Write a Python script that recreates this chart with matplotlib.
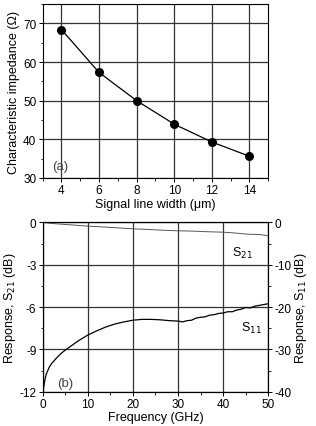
import matplotlib
matplotlib.use('Agg')
import matplotlib.pyplot as plt
from matplotlib.ticker import MultipleLocator

plt.rcParams['font.family'] = ['Liberation Sans', 'DejaVu Sans']
plt.rcParams['font.size'] = 9
plt.rcParams['xtick.labelsize'] = 8.5
plt.rcParams['ytick.labelsize'] = 8.5
plt.rcParams['axes.unicode_minus'] = False

# Panel (a): characteristic impedance vs signal line width
width_um = [4, 6, 8, 10, 12, 14]
impedance = [68.4, 57.3, 50.0, 43.9, 39.3, 35.6]

# Panel (b): S-parameters vs frequency
s21_freq = [0, 2, 5, 8, 10, 13, 16, 20, 23, 26, 30, 33, 36, 40, 42, 44, 46, 48, 50]
s21_db = [0.0, -0.08, -0.15, -0.22, -0.27, -0.32, -0.38, -0.46, -0.5, -0.55,
          -0.6, -0.62, -0.66, -0.7, -0.74, -0.8, -0.85, -0.86, -0.95]
s11_freq = [0, 0.2, 0.5, 0.75, 1, 1.5, 2, 3, 4, 5.2, 6, 8, 10, 12, 14, 16, 18,
            20, 22, 24, 26, 28, 30, 31, 32, 33, 34, 35, 36, 37, 38, 39, 40, 41,
            42, 43, 44, 45, 46, 47, 48, 49, 50]
s11_db = [-40, -39, -37.2, -36.0, -35.3, -34.1, -33.3, -32.1, -31.0, -30.0,
          -29.4, -27.9, -26.6, -25.6, -24.7, -24.0, -23.5, -23.1, -22.9, -22.9,
          -23.0, -23.2, -23.3, -23.5, -23.2, -23.1, -22.6, -22.4, -22.3, -21.9,
          -21.8, -21.5, -21.4, -21.1, -21.1, -20.7, -20.5, -20.1, -20.2, -19.8,
          -19.6, -19.4, -19.2]

fig = plt.figure(figsize=(3.16, 4.27), dpi=100)

grid_kw = dict(color='#333333', lw=0.9)

# (a)
ax1 = fig.add_axes([0.135, 0.581, 0.714, 0.407])
ax1.plot(width_um, impedance, '-o', color='black', lw=0.9, ms=5.5)
ax1.set_xlim(3, 15)
ax1.set_ylim(30, 75)
ax1.set_xticks(width_um)
ax1.xaxis.set_minor_locator(MultipleLocator(1))
ax1.set_yticks([30, 40, 50, 60, 70])
ax1.yaxis.set_minor_locator(MultipleLocator(5))
ax1.grid(True, which='major', **grid_kw)
ax1.tick_params(direction='out', length=3, width=0.7, pad=1.5)
ax1.tick_params(which='minor', direction='out', length=1.8, width=0.6)
ax1.set_xlabel('Signal line width (\u03bcm)', labelpad=1)
ax1.set_ylabel('Characteristic impedance (\u03a9)', labelpad=2)
ax1.text(3.5, 32.3, '(a)', color='#444444', fontsize=9.5)
for s in ax1.spines.values():
    s.set_linewidth(0.8)

# (b)
ax2 = fig.add_axes([0.135, 0.080, 0.714, 0.397])
ax2.plot(s21_freq, s21_db, color='#555555', lw=0.7)
ax2.set_xlim(0, 50)
ax2.set_ylim(-12, 0)
ax2.set_xticks([0, 10, 20, 30, 40, 50])
ax2.xaxis.set_minor_locator(MultipleLocator(5))
ax2.set_yticks([-12, -9, -6, -3, 0])
ax2.yaxis.set_minor_locator(MultipleLocator(1.5))
ax2.grid(True, which='major', **grid_kw)
ax2.tick_params(direction='out', length=3, width=0.7, pad=1.5)
ax2.tick_params(which='minor', direction='out', length=1.8, width=0.6)
ax2.set_xlabel('Frequency (GHz)', labelpad=1)
ax2.set_ylabel('Response, S$_{21}$ (dB)', labelpad=1)
ax2.text(3.3, -11.6, '(b)', color='#444444', fontsize=9.5)
ax2.text(42, -2.4, 'S$_{21}$')
ax2.text(44, -7.7, 'S$_{11}$')

ax3 = ax2.twinx()
ax3.plot(s11_freq, s11_db, color='black', lw=0.9)
ax3.set_ylim(-40, 0)
ax3.set_yticks([-40, -30, -20, -10, 0])
ax3.yaxis.set_minor_locator(MultipleLocator(5))
ax3.tick_params(direction='out', length=3, width=0.7, pad=1.5)
ax3.tick_params(which='minor', direction='out', length=1.8, width=0.6)
ax3.set_ylabel('Response, S$_{11}$ (dB)', labelpad=1)
for ax in (ax2, ax3):
    for s in ax.spines.values():
        s.set_linewidth(0.8)

fig.savefig('out.png', dpi=100)
